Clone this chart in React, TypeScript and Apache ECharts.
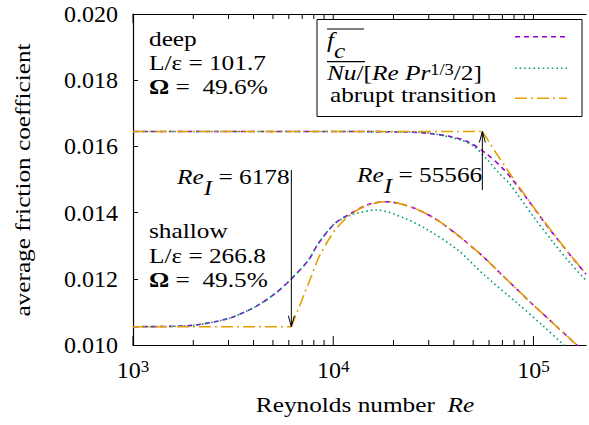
import React, { useEffect, useRef } from 'react';
import * as echarts from 'echarts';

const FONT = "'Liberation Serif', 'Times New Roman', serif";
const PURPLE = '#9400d3';
const GREEN = '#009e73';
const ORANGE = '#e69f00';

// axes
const xMin = 1000;
const xMax = 183000;
const yMin = 0.01;
const yMax = 0.02;
const yStep = 0.002;
const majorTicksX = [1000, 10000, 100000];
const minorTicksX = [2000, 3000, 4000, 5000, 6000, 7000, 8000, 9000, 20000, 30000, 40000, 50000, 60000, 70000, 80000, 90000];

// transition Reynolds numbers
const reTransShallow = 6178;
const reTransDeep = 55566;

// deep case [Re, f]
const deepFc: number[][] = [
  [1000, 0.01645], [10000, 0.01645], [23640, 0.016435], [29720, 0.016396], [38790, 0.016293],
  [46950, 0.016142], [57890, 0.015792], [71450, 0.015287], [89810, 0.01454], [117200, 0.01359],
  [141900, 0.012955], [183000, 0.01214],
];
const deepNu: number[][] = [
  [1000, 0.01645], [10000, 0.01645], [23640, 0.016435], [30740, 0.016396], [43350, 0.016193],
  [50700, 0.015991], [59020, 0.015589], [67480, 0.015187], [75650, 0.014885], [84820, 0.01448],
  [100700, 0.01385], [126600, 0.013073], [153000, 0.012468], [183000, 0.01195],
];
const deepAbruptFlat: number[][] = [[1000, 0.01645], [55566, 0.01645]];
const deepAbruptDrop: number[][] = [
  [55566, 0.01645], [64910, 0.015813], [75650, 0.01521], [91490, 0.014493], [112900, 0.013739],
  [153000, 0.012718], [183000, 0.012153],
];

// shallow case [Re, f]
const shallowFc: number[][] = [
  [1000, 0.010553], [1500, 0.010562], [2061, 0.010604], [3016, 0.010807], [4093, 0.011157],
  [5145, 0.011562], [6221, 0.012015], [7531, 0.012568], [8443, 0.013073], [10220, 0.013677],
  [12310, 0.013979], [14960, 0.014245], [18440, 0.014329], [25520, 0.01413], [34590, 0.013695],
  [52640, 0.012819], [71450, 0.012054], [96850, 0.011284], [131400, 0.010544], [165200, 0.00999],
  [183000, 0.009734],
];
const shallowNu: number[][] = [
  [1000, 0.010553], [1500, 0.010562], [2061, 0.010604], [3016, 0.010807], [4093, 0.011157],
  [5145, 0.011562], [6221, 0.012015], [7531, 0.012568], [8443, 0.013082], [10220, 0.01368],
  [12310, 0.013927], [16450, 0.014079], [22760, 0.013828], [29720, 0.013474], [41880, 0.01287],
  [56840, 0.012115], [83180, 0.01126], [112900, 0.010553], [141900, 0.01], [183000, 0.00938],
];
const shallowAbruptFlat: number[][] = [[1000, 0.010553], [6178, 0.010553]];
const shallowAbruptRise: number[][] = [
  [6178, 0.010553], [6975, 0.01136], [7822, 0.012115], [8443, 0.012628], [9467, 0.013172],
  [10610, 0.013595], [12310, 0.013958], [14960, 0.01423], [18440, 0.014329], [25520, 0.01413],
  [34590, 0.013695], [52640, 0.012819], [71450, 0.012054], [96850, 0.011284], [131400, 0.010544],
  [165200, 0.00999], [183000, 0.009734],
];

// arrows [Re, fFrom, fTo]
const arrows: number[][] = [
  [reTransShallow, 0.015287, 0.010553],
  [reTransDeep, 0.014683, 0.01645],
];

const legendLabels = ['f_c', 'Nu/[Re Pr^{1/3}/2]', 'abrupt transition'];

const DASH_PURPLE = [5, 4];
const DASH_GREEN = [1.6, 3];
const DASH_ORANGE = [12, 4, 2, 4];

const SX = 1.15;

function richSet(size: number) {
  return {
    n: { fontFamily: FONT, fontSize: size, fill: '#000', lineHeight: 26, verticalAlign: 'top' },
    i: { fontFamily: FONT, fontSize: size, fontStyle: 'italic', fill: '#000', lineHeight: 26, verticalAlign: 'top' },
    bo: { fontFamily: FONT, fontSize: size, fontWeight: 'bold', fill: '#000', lineHeight: 26, verticalAlign: 'top' },
    sub: { fontFamily: FONT, fontSize: size, fontStyle: 'italic', fill: '#000', lineHeight: 44, verticalAlign: 'middle' },
    sup: { fontFamily: FONT, fontSize: 16, fill: '#000', lineHeight: 7, verticalAlign: 'top' },
  };
}

export default function App() {
  const ref = useRef<HTMLDivElement>(null);
  useEffect(() => {
    if (!ref.current) return;
    const chart = echarts.init(ref.current, null, { renderer: 'svg' });

    const line = (name: string, data: number[][], color: string, dash: number[], smooth: number | boolean) => ({
      type: 'line',
      name,
      data,
      showSymbol: false,
      symbol: 'none',
      smooth,
      silent: true,
      z: 3,
      lineStyle: { color, width: 1.6, type: dash },
    });

    const rich = richSet(22);

    const option: any = {
      animation: false,
      backgroundColor: '#fff',
      grid: { left: 133, right: 0, top: 14, bottom: 80, containLabel: false },
      xAxis: [
        {
          type: 'log',
          logBase: 10,
          min: xMin,
          max: xMax,
          axisLine: { show: true, lineStyle: { color: '#000', width: 1.2 } },
          axisTick: { show: false },
          splitLine: { show: false },
          axisLabel: {
            margin: 13,
            formatter: (v: number) => {
              const l = Math.log10(v);
              const e = Math.round(l);
              if (Math.abs(l - e) > 1e-6) return '';
              return `{b|10}{s|${e}}`;
            },
            rich: {
              b: { fontFamily: FONT, fontSize: 24, color: '#000', lineHeight: 26, verticalAlign: 'top' },
              s: { fontFamily: FONT, fontSize: 17, color: '#000', lineHeight: 10, verticalAlign: 'top' },
            },
          },
        },
        {
          type: 'log',
          logBase: 10,
          min: xMin,
          max: xMax,
          position: 'top',
          axisLine: { show: true, lineStyle: { color: '#000', width: 1.2 } },
          axisTick: { show: false },
          axisLabel: { show: false },
          splitLine: { show: false },
        },
      ],
      yAxis: {
        type: 'value',
        min: yMin,
        max: yMax,
        interval: yStep,
        axisLine: { show: true, lineStyle: { color: '#000', width: 1.2 } },
        axisTick: { show: true, inside: true, length: 5, lineStyle: { color: '#000', width: 1 } },
        splitLine: { show: false },
        axisLabel: {
          margin: 15,
          fontFamily: FONT,
          fontSize: 24,
          color: '#000',
          formatter: (v: number) => v.toFixed(3),
        },
      },
      series: [
        line('deep fc', deepFc, PURPLE, DASH_PURPLE, 0.3),
        line('deep Nu', deepNu, GREEN, DASH_GREEN, 0.3),
        line('deep abrupt flat', deepAbruptFlat, ORANGE, DASH_ORANGE, false),
        line('deep abrupt', deepAbruptDrop, ORANGE, DASH_ORANGE, 0.3),
        line('shallow fc', shallowFc, PURPLE, DASH_PURPLE, 0.3),
        line('shallow Nu', shallowNu, GREEN, DASH_GREEN, 0.3),
        line('shallow abrupt flat', shallowAbruptFlat, ORANGE, DASH_ORANGE, false),
        line('shallow abrupt', shallowAbruptRise, ORANGE, DASH_ORANGE, 0.3),
        {
          type: 'custom',
          name: 'ticks',
          silent: true,
          z: 6,
          clip: false,
          data: [...majorTicksX.map((v) => [v, 1]), ...minorTicksX.map((v) => [v, 0])],
          encode: { x: 0 },
          renderItem: (_p: any, api: any) => {
            const v = api.value(0);
            const len = api.value(1) === 1 ? 9 : 5;
            const b = api.coord([v, yMin]);
            const t = api.coord([v, yMax]);
            const st = { stroke: '#000', lineWidth: 1 };
            return {
              type: 'group',
              children: [
                { type: 'line', shape: { x1: b[0], y1: b[1], x2: b[0], y2: b[1] - len }, style: st },
                { type: 'line', shape: { x1: t[0], y1: t[1], x2: t[0], y2: t[1] + len }, style: st },
              ],
            };
          },
        },
        {
          type: 'custom',
          name: 'arrows',
          silent: true,
          z: 7,
          clip: false,
          data: arrows,
          encode: { x: 0, y: [1, 2] },
          renderItem: (_p: any, api: any) => {
            const v = api.value(0);
            const a = api.coord([v, api.value(1)]);
            const b = api.coord([v, api.value(2)]);
            const dir = b[1] > a[1] ? 1 : -1;
            const st = { stroke: '#000', lineWidth: 1, fill: 'none' };
            return {
              type: 'group',
              children: [
                { type: 'line', shape: { x1: a[0], y1: a[1], x2: b[0], y2: b[1] }, style: st },
                {
                  type: 'polyline',
                  shape: { points: [[b[0] - 3, b[1] - dir * 11], [b[0], b[1]], [b[0] + 3, b[1] - dir * 11]] },
                  style: st,
                },
              ],
            };
          },
        },
      ],
      graphic: [
        // axis titles
        {
          type: 'text', x: 23, y: 180, rotation: Math.PI / 2, scaleX: SX, silent: true,
          style: { text: 'average friction coefficient', fontFamily: FONT, fontSize: 22, fill: '#000', align: 'center', verticalAlign: 'middle' },
        },
        {
          type: 'text', x: 365, y: 394, scaleX: SX, silent: true,
          style: { text: '{n|Reynolds number  }{i|Re}', rich, align: 'center', verticalAlign: 'top' },
        },
        // case annotations
        {
          type: 'text', x: 149, y: 26.5, scaleX: SX, silent: true,
          style: {
            text: '{m|deep}\n{m|L/ε = 101.7}\n{mb|Ω}{m| =  49.6%}',
            rich: {
              m: { fontFamily: FONT, fontSize: 22, fill: '#000', lineHeight: 24 },
              mb: { fontFamily: FONT, fontSize: 22, fontWeight: 'bold', fill: '#000', lineHeight: 24 },
            },
            verticalAlign: 'top',
          },
        },
        {
          type: 'text', x: 149, y: 218, scaleX: SX, silent: true,
          style: {
            text: '{m|shallow}\n{m|L/ε = 266.8}\n{mb|Ω}{m| =  49.5%}',
            rich: {
              m: { fontFamily: FONT, fontSize: 22, fill: '#000', lineHeight: 24.8 },
              mb: { fontFamily: FONT, fontSize: 22, fontWeight: 'bold', fill: '#000', lineHeight: 24.8 },
            },
            verticalAlign: 'top',
          },
        },
        {
          type: 'text', x: 177, y: 166, scaleX: SX, silent: true,
          style: { text: '{i|Re}{sub|I}{n| = ' + reTransShallow + '}', rich, verticalAlign: 'top' },
        },
        {
          type: 'text', x: 357, y: 163.5, scaleX: SX, silent: true,
          style: { text: '{i|Re}{sub|I}{n| = ' + reTransDeep + '}', rich, verticalAlign: 'top' },
        },
        // legend
        {
          type: 'rect', silent: true, z: 10,
          shape: { x: 317, y: 19.5, width: 265, height: 97 },
          style: { fill: '#fff', stroke: '#000', lineWidth: 1 },
        },
        {
          type: 'text', x: 327, y: 28.5, scaleX: SX, silent: true, z: 11,
          style: { text: '{i|f}{sub|c}', rich, verticalAlign: 'top' },
        },
        { type: 'line', silent: true, z: 11, shape: { x1: 327, y1: 29, x2: 364, y2: 29 }, style: { stroke: '#000', lineWidth: 1.2 } },
        {
          type: 'text', x: 327, y: 61.7, scaleX: SX, silent: true, z: 11,
          style: { text: '{i|Nu}{n|/[}{i|Re Pr}{sup|1/3}{n|/2]}', rich, verticalAlign: 'top' },
        },
        { type: 'line', silent: true, z: 11, shape: { x1: 327, y1: 61.7, x2: 365, y2: 61.7 }, style: { stroke: '#000', lineWidth: 1.2 } },
        {
          type: 'text', x: 330, y: 83.5, scaleX: SX, silent: true, z: 11,
          style: { text: '{n|' + legendLabels[2] + '}', rich, verticalAlign: 'top' },
        },
        { type: 'line', silent: true, z: 11, shape: { x1: 515, y1: 36.7, x2: 567, y2: 36.7 }, style: { stroke: PURPLE, lineWidth: 1.6, lineDash: DASH_PURPLE } },
        { type: 'line', silent: true, z: 11, shape: { x1: 515, y1: 68.3, x2: 567, y2: 68.3 }, style: { stroke: GREEN, lineWidth: 1.6, lineDash: DASH_GREEN } },
        { type: 'line', silent: true, z: 11, shape: { x1: 515, y1: 98.3, x2: 567, y2: 98.3 }, style: { stroke: ORANGE, lineWidth: 1.6, lineDash: DASH_ORANGE } },
      ],
    };

    chart.setOption(option);
    return () => chart.dispose();
  }, []);

  return (
    <div
      ref={ref}
      style={{ position: 'fixed', left: 0, top: 0, width: 589, height: 425, background: '#fff' }}
    />
  );
}
